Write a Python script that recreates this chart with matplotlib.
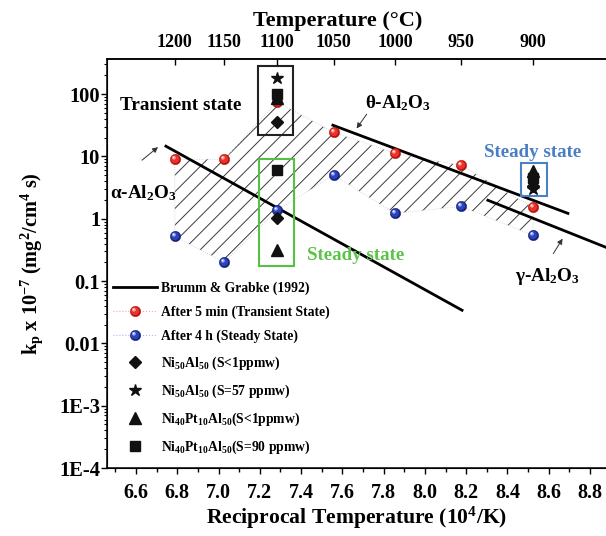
import numpy as np
import matplotlib
matplotlib.use("Agg")
import matplotlib.pyplot as plt
from matplotlib.lines import Line2D
from matplotlib.patches import Polygon, Rectangle
from matplotlib.path import Path
from matplotlib.ticker import LogLocator, MultipleLocator, NullFormatter

plt.rcParams["font.family"] = "Liberation Serif"
plt.rcParams["font.weight"] = "bold"
plt.rcParams["axes.labelweight"] = "bold"
plt.rcParams["mathtext.fontset"] = "custom"
plt.rcParams["mathtext.rm"] = "Liberation Serif:bold"
plt.rcParams["mathtext.it"] = "Liberation Serif:bold"
plt.rcParams["mathtext.bf"] = "Liberation Serif:bold"
plt.rcParams["mathtext.default"] = "rm"
plt.rcParams["hatch.linewidth"] = 0.7


def recip(t):
    # 10^4 / K
    return 1e4 / (np.asarray(t, dtype=float) + 273.15)


# oxidation temperatures (C) and parabolic rate constants
temps_c = [1200, 1150, 1100, 1050, 1000, 950, 900]
kp_5min = [9.0, 9.0, 75.0, 24.5, 11.2, 7.2, 1.52]
kp_4h = [0.52, 0.20, 1.36, 5.0, 1.22, 1.58, 0.54]

# alloys (temperature, kp)
ni50_s1_t = [1100, 1100, 900]
ni50_s1_kp = [35.5, 1.01, 3.4]
ni50_s57_t = [1100, 900]
ni50_s57_kp = [181.0, 3.05]
nipt_s1_t = [1100, 1100, 900]
nipt_s1_kp = [86.0, 0.31, 5.85]
nipt_s90_t = [1100, 1100, 900]
nipt_s90_kp = [100.0, 6.0, 4.5]

# Brumm & Grabke (1992) lines, x in 10^4/K
alpha_x = [6.745, 8.18]
alpha_kp = [14.6, 0.034]
theta_x = [7.554, 8.693]
theta_kp = [31.7, 1.22]
gamma_x = [8.305, 8.88]
gamma_kp = [1.98, 0.345]

top_temps = [1200, 1150, 1100, 1050, 1000, 950, 900]
x_ticks = [6.6, 6.8, 7.0, 7.2, 7.4, 7.6, 7.8, 8.0, 8.2, 8.4, 8.6, 8.8]
y_ticks = [1e-4, 1e-3, 1e-2, 0.1, 1, 10, 100]
y_labels = ["1E-4", "1E-3", "0.01", "0.1", "1", "10", "100"]

x = recip(temps_c)

fig = plt.figure(figsize=(6.06, 5.36), dpi=100)
ax = fig.add_axes([107 / 606, 1 - 468 / 536, 499 / 606, 409 / 536])
ax.set_yscale("log")
ax.set_xlim(6.4595, 8.8775)
ax.set_ylim(1e-4, 366)

# hatched band between transient and steady state values
band = np.vstack([np.column_stack([x, kp_5min]),
                  np.column_stack([x[::-1], kp_4h[::-1]])])
ax.add_patch(Polygon(band, closed=True, fill=False, hatch="//",
                     edgecolor="#3a3a3a", linewidth=0, zorder=1))
ax.add_patch(Polygon(band, closed=True, fill=False, edgecolor="#cccccc",
                     linewidth=0.6, linestyle=":", zorder=1))

line_h, = ax.plot(alpha_x, alpha_kp, color="black", lw=2, zorder=2)
ax.plot(theta_x, theta_kp, color="black", lw=2, zorder=2)
ax.plot(gamma_x, gamma_kp, color="black", lw=2, zorder=2)


def circle_marker(cx, cy, r):
    c = Path.circle((cx, cy), r)
    verts = np.vstack([[1, 1], [-1, -1], c.vertices])
    codes = [Path.MOVETO, Path.MOVETO] + list(c.codes)
    return Path(verts, codes)


mid_m = circle_marker(-0.08, 0.08, 0.78)
light_m = circle_marker(-0.3, 0.33, 0.36)
white_m = circle_marker(-0.36, 0.4, 0.14)


def sphere(xs, ys, colors, ms=7.5):
    base, mid, light = colors
    h = [ax.plot(xs, ys, "o", ms=ms, mfc=base, mec=base, mew=0.3, ls="none", zorder=4)[0],
         ax.plot(xs, ys, marker=mid_m, ms=ms, mfc=mid, mew=0, ls="none", zorder=4)[0],
         ax.plot(xs, ys, marker=light_m, ms=ms, mfc=light, mew=0, ls="none", zorder=4)[0],
         ax.plot(xs, ys, marker=white_m, ms=ms, mfc="white", mew=0, ls="none", zorder=4)[0]]
    return h


red_h = sphere(x, kp_5min, ("#b5120e", "#e9332b", "#ff9c92"))
blue_h = sphere(x, kp_4h, ("#14207a", "#2b44b8", "#95a8ee"))

dia_h, = ax.plot(recip(ni50_s1_t), ni50_s1_kp, "D", ms=6.4, color="#111111", ls="none", zorder=5)
star_h, = ax.plot(recip(ni50_s57_t), ni50_s57_kp, "*", ms=9, color="#111111", ls="none", zorder=5)
tri_h, = ax.plot(recip(nipt_s1_t), nipt_s1_kp, "^", ms=8, color="#111111", ls="none", zorder=5)
sq_h, = ax.plot(recip(nipt_s90_t), nipt_s90_kp, "s", ms=6.8, color="#111111", ls="none", zorder=5)

# boxes around groups of points
ax.add_patch(Rectangle((7.191, 21.9), 0.169, 282 - 21.9, fill=False,
                       edgecolor="#222222", lw=1.5, zorder=3))
ax.add_patch(Rectangle((7.196, 0.172), 0.169, 9.0 - 0.172, fill=False,
                       edgecolor="#55c043", lw=1.5, zorder=3))
ax.add_patch(Rectangle((8.465, 2.29), 0.126, 7.8 - 2.29, fill=False,
                       edgecolor="#4a80c8", lw=1.5, zorder=3))

ax.text(6.522, 55.3, "Transient state", fontsize=13.8, va="baseline")
ax.text(7.709, 59.6, "θ-Al$_2$O$_3$", fontsize=13.8, va="baseline")
ax.text(6.474, 2.13, "α-Al$_2$O$_3$", fontsize=13.8, va="baseline")
ax.text(8.436, 0.102, "γ-Al$_2$O$_3$", fontsize=13.8, va="baseline")
ax.text(8.286, 9.7, "Steady state", fontsize=13.6, va="baseline", color="#4a7ec4")
ax.text(7.428, 0.214, "Steady state", fontsize=13.6, va="baseline", color="#5ec24a")

arrow = dict(arrowstyle="-|>", lw=0.7, color="#333333", mutation_scale=8,
             shrinkA=0, shrinkB=0)
ax.annotate("", xy=(6.7066, 14.1), xytext=(6.629, 8.7), arrowprops=arrow)
ax.annotate("", xy=(7.669, 28.1), xytext=(7.718, 47.7), arrowprops=arrow)
ax.annotate("", xy=(8.667, 0.479), xytext=(8.622, 0.275), arrowprops=arrow)

# axes formatting
ax.set_xticks(x_ticks, [f"{v:.1f}" for v in x_ticks])
ax.xaxis.set_minor_locator(MultipleLocator(0.1))
ax.set_yticks(y_ticks, y_labels)
ax.yaxis.set_minor_locator(LogLocator(base=10, subs=np.arange(2, 10), numticks=20))
ax.yaxis.set_minor_formatter(NullFormatter())
ax.tick_params(axis="x", which="major", direction="out", length=4.3, width=1,
               pad=6.5, labelsize=14.5)
ax.tick_params(axis="x", which="minor", direction="out", length=3, width=1)
ax.tick_params(axis="y", which="major", direction="out", length=4, width=1,
               pad=1, labelsize=14.8)
ax.tick_params(axis="y", which="minor", direction="out", length=2.5, width=0.8)
ax.tick_params(top=False)
for s in ["left", "bottom", "top"]:
    ax.spines[s].set_linewidth(1.1)
ax.spines["right"].set_visible(False)

ax.set_xlabel("Reciprocal Temperature (10$^4$/K)", fontsize=15.6, labelpad=1)
ax.set_ylabel("k$_p$ x 10$^{-7}$ (mg$^2$/cm$^4$ s)", fontsize=14.6, labelpad=10)

ax2 = ax.twiny()
ax2.set_xlim(ax.get_xlim())
ax2.set_xticks(recip(top_temps), [str(t) for t in top_temps])
ax2.tick_params(axis="x", direction="in", length=4.3, width=1, pad=6, labelsize=13)
ax2.spines["right"].set_visible(False)
ax2.spines["top"].set_linewidth(1.1)
ax2.set_xlabel("Temperature (°C)", fontsize=16)
ax2.xaxis.set_label_coords(0.463, 1.081)

red_leg = (Line2D([], [], ls=":", color="#f0a8a8", lw=0.8), *red_h)
blue_leg = (Line2D([], [], ls=":", color="#b0b8e8", lw=0.8), *blue_h)
ax.legend([line_h, red_leg, blue_leg, dia_h, star_h, tri_h, sq_h],
          ["Brumm & Grabke (1992)",
           "After 5 min (Transient State)",
           "After 4 h (Steady State)",
           "Ni$_{50}$Al$_{50}$ (S<1ppmw)",
           "Ni$_{50}$Al$_{50}$ (S=57 ppmw)",
           "Ni$_{40}$Pt$_{10}$Al$_{50}$(S<1ppmw)",
           "Ni$_{40}$Pt$_{10}$Al$_{50}$(S=90 ppmw)"],
          loc="upper left", bbox_to_anchor=(0.012, 0.457), frameon=False,
          fontsize=9.8, handlelength=3.2, handletextpad=0.3, labelspacing=0.8,
          borderpad=0, borderaxespad=0, numpoints=1)

fig.savefig("out.png", dpi=100)
